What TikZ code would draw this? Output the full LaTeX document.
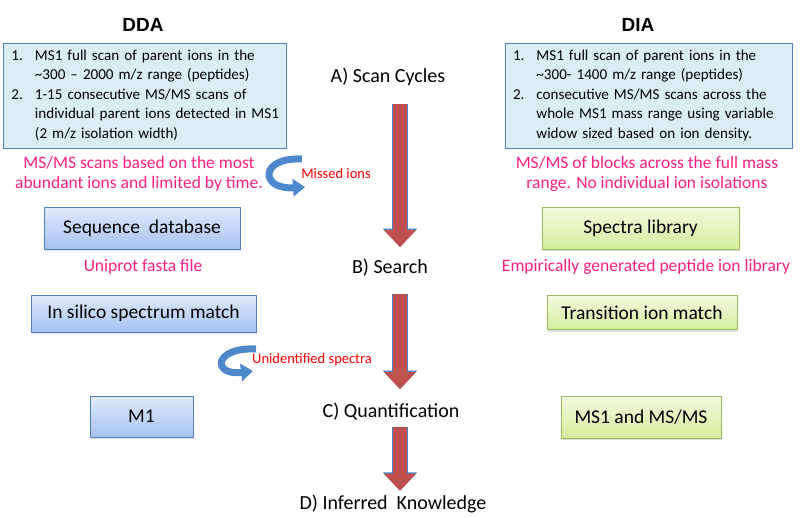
\documentclass[tikz,border=0pt]{standalone}
\usepackage{fontspec}
\setmainfont{Carlito}
\newfontfamily\headfont{Liberation Sans}
\usetikzlibrary{shapes,positioning,calc,arrows.meta,shadows}
\definecolor{arrowred}{RGB}{192,80,77}
\definecolor{edgeblue}{RGB}{79,129,189}
\definecolor{paleblue}{RGB}{219,238,244}
\definecolor{topblue}{RGB}{224,234,252}
\definecolor{botblue}{RGB}{165,195,243}
\definecolor{topgreen}{RGB}{242,250,224}
\definecolor{botgreen}{RGB}{212,239,158}
\definecolor{edgegreen}{RGB}{155,187,89}
\definecolor{notepink}{RGB}{255,30,130}
\definecolor{curveblue}{RGB}{78,136,204}

\begin{document}
\begin{tikzpicture}
  [x=1pt,y=-1pt,
   headN/.style={font=\headfont\bfseries\fontsize{19}{22}\selectfont},
   stepN/.style={font=\fontsize{20}{24}\selectfont,inner sep=0pt},
   listN/.style={draw=edgeblue,fill=paleblue,minimum height=105pt,inner xsep=8pt,
                 align=left,font=\fontsize{15.1}{19.5}\selectfont},
   boxN/.style={minimum height=42pt,inner sep=0pt,font=\fontsize{19.5}{23}\selectfont,
                drop shadow={shadow xshift=1pt,shadow yshift=-2pt,opacity=0.25}},
   ddaN/.style={boxN,draw=edgeblue,top color=topblue,bottom color=botblue},
   diaN/.style={boxN,draw=edgegreen,top color=topgreen,bottom color=botgreen},
   noteN/.style={text=notepink,align=center,font=\fontsize{17.5}{20}\selectfont},
   tagN/.style={text=red,font=\fontsize{14.5}{17}\selectfont},
   flowA/.style={line width=14pt,draw=arrowred,-{Triangle[width=31pt,length=17pt]},
                 preaction={draw=edgeblue,line width=15.5pt,-{Triangle[width=33.5pt,length=18.5pt]}}},
   turnA/.style={curveblue,line width=7pt,-{Triangle[width=17pt,length=12pt]}},
  ]
 \useasboundingbox (0,0) rectangle (800,517);

 % column heads
 \node[headN] (dda) at (143,25) {DDA};
 \node[headN] (dia) at (638,25) {DIA};

 % scan descriptions
 \node[listN,text width=267pt] (ddalist) at (145,95.5) {%
  \begin{tabular}{@{}l@{\hspace{12pt}}l@{}}
   1. & MS1 full scan of parent ions in the\\
      & \textasciitilde300 -- 2000 m/z range (peptides)\\
   2. & 1-15 consecutive MS/MS scans of\\
      & individual parent ions detected in MS1\\
      & (2 m/z isolation width)
  \end{tabular}};
 \node[listN,text width=271pt] (dialist) at (648.5,95.5) {%
  \begin{tabular}{@{}l@{\hspace{12pt}}l@{}}
   1. & MS1 full scan of parent ions in the\\
      & \textasciitilde300- 1400 m/z range (peptides)\\
   2. & consecutive MS/MS scans across the\\
      & whole MS1 mass range using variable\\
      & widow sized based on ion density.
  \end{tabular}};

 \node[noteN] (ddanote) at (139,174) {MS/MS scans based on the most\\abundant ions and limited by time.};
 \node[noteN] (dianote) at (647,174) {MS/MS of blocks across the full mass\\range. No individual ion isolations};

 % workflow steps
 \node[stepN] (scanA) at (388,77) {A) Scan Cycles};
 \node[stepN] (searchB) at (390,268) {B) Search};
 \node[stepN] (quantC) at (391,412) {C) Quantification};
 \node[stepN] (knowD) at (393,504) {D) Inferred\ \ Knowledge};

 \node[ddaN,minimum width=196pt] (seqdb) at (142,228) {Sequence\ \ database};
 \node[noteN] (uniprot) at (143,267) {Uniprot fasta file};
 \node[ddaN,minimum width=225pt,minimum height=37pt] (silico) at (143.5,313.5) {In silico spectrum match};
 \node[ddaN,minimum width=103pt,minimum height=41pt] (m1) at (141.5,416.5) {M1};

 \node[diaN,minimum width=197pt] (speclib) at (640.5,228) {Spectra library};
 \node[noteN] (empir) at (646,267) {Empirically generated peptide ion library};
 \node[diaN,minimum width=190pt,minimum height=34pt] (transion) at (642,312.5) {Transition ion match};
 \node[diaN,minimum width=160pt] (msms) at (641,417) {MS1 and MS/MS};

 % losses
 \node[tagN] (missed) at (336,174) {Missed ions};
 \node[tagN] (unident) at (312,360) {Unidentified spectra};
 \coordinate (missed0) at (302,159);
 \coordinate (missed1) at (305,187);
 \coordinate (unident0) at (256,349);
 \coordinate (unident1) at (253,371);
 \draw[turnA] (missed0) .. controls (259,157) and (260,190) .. (missed1);
 \draw[turnA] (unident0) .. controls (213,347) and (212,376) .. (unident1);

 % main flow
 \coordinate (ax) at (400,0);
 \draw[flowA,shorten <=18pt,shorten >=12pt] (scanA.south -| ax) -- (searchB.north -| ax);
 \draw[flowA,shorten <=17pt,shorten >=14pt] (searchB.south -| ax) -- (quantC.north -| ax);
 \draw[flowA,shorten <=6pt,shorten >=4pt] (quantC.south -| ax) -- (knowD.north -| ax);

\end{tikzpicture}
\end{document}
